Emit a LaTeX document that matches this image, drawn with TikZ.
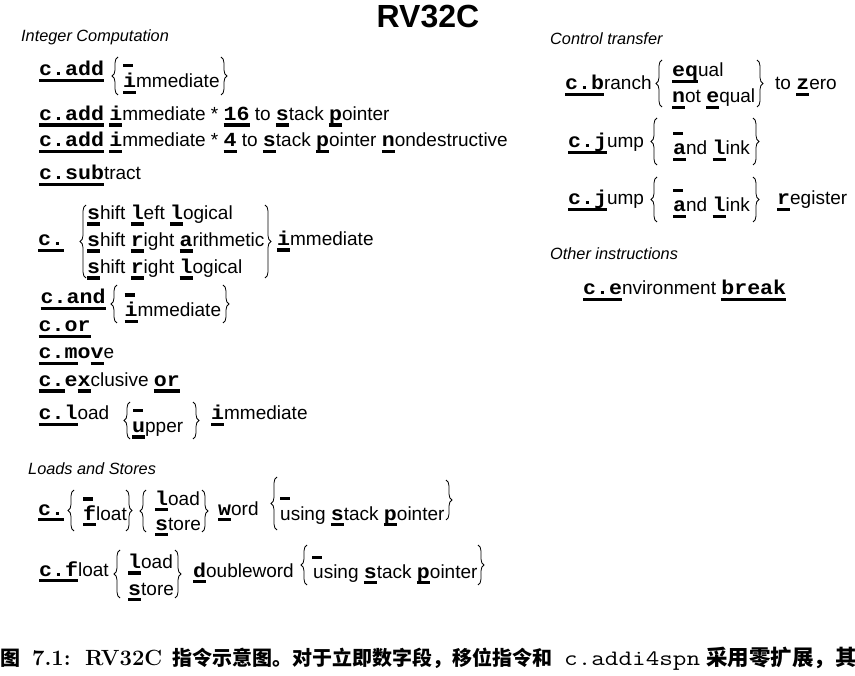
\documentclass[tikz,border=0pt]{standalone}
\usepackage{fontspec}
\setmainfont{Liberation Sans}
\newfontfamily\cf{Liberation Mono}[FakeStretch=1.08]
\newfontfamily\cjk{Noto Sans CJK SC}
\newfontfamily\lmr{Latin Modern Roman}
\newfontfamily\lmtt{Latin Modern Mono}[FakeStretch=1.2]
\usetikzlibrary{decorations.pathreplacing}
\newcommand\cfont{\cf\bfseries\fontsize{20}{22}\selectfont}
\newcommand\K[1]{\leavevmode\setbox0\hbox{\cfont #1}\rlap{\vrule width\wd0 height -2.6pt depth 6.4pt}\box0\relax}
\newcommand\C[1]{{\cfont #1}}
\newcommand\Bar{\leavevmode\vrule width 10pt height -2.6pt depth 6.4pt\relax}
\tikzset{
  txt/.style={anchor=base west, inner sep=0pt, font=\fontsize{19}{22}\selectfont},
  head/.style={anchor=base west, inner sep=0pt, font=\itshape\fontsize{16.3}{18}\selectfont},
  lbr/.style={decorate, decoration={brace, amplitude=6pt, aspect=0.5}, line width=0.8pt},
  captxt/.style={anchor=base west, inner sep=0pt},
}
\begin{document}
\begin{tikzpicture}[x=1pt,y=-1pt]
\useasboundingbox (0,0) rectangle (855,676);
% title
\node[anchor=base, inner sep=0pt, font=\bfseries\fontsize{32}{36}\selectfont] (title) at (428,28) {RV32C};
% headings
\node[head] (h1) at (21,41.5) {Integer Computation};
\node[head] (h2) at (28,475) {Loads and Stores};
\node[head] (h3) at (550,45) {Control transfer};
\node[head] (h4) at (550,260) {Other instructions};

% c.add {_ / immediate}
\node[txt] (a1) at (39,76) {\K{c.add}};
\draw[lbr] (118,95) -- (118,57);
\node[txt] (a1u) at (123,61) {\Bar};
\node[txt] (a1l) at (123,88) {\K{i}mmediate};
\draw[lbr] (221,57) -- (221,95);

\node[txt] (a2) at (39,120.5) {\K{c.add} \K{i}mmediate * \K{16} to \K{s}tack \K{p}ointer};
\node[txt] (a3) at (39,147) {\K{c.add} \K{i}mmediate * \K{4} to \K{s}tack \K{p}ointer \K{n}ondestructive};
\node[txt] (a4) at (39,180) {\K{c.sub}tract};

% shifts
\node[txt] (s0) at (38,246) {\K{c.}};
\draw[lbr] (86,278) -- (86,205);
\node[txt] (s1) at (87,219.5) {\K{s}hift \K{l}eft \K{l}ogical};
\node[txt] (s2) at (87,246.5) {\K{s}hift \K{r}ight \K{a}rithmetic};
\node[txt] (s3) at (87,273.5) {\K{s}hift \K{r}ight \K{l}ogical};
\draw[lbr] (265,205) -- (265,278);
\node[txt] (s4) at (277,245.5) {\K{i}mmediate};

% c.and
\node[txt] (n1) at (40.5,304) {\K{c.and}};
\draw[lbr] (117,323) -- (117,285);
\node[txt] (n1u) at (124.5,290.5) {\Bar};
\node[txt] (n1l) at (124.5,317) {\K{i}mmediate};
\draw[lbr] (223,285) -- (223,323);

\node[txt] (o1) at (38.5,332) {\K{c.or}};
\node[txt] (m1) at (38.5,359) {\K{c.m}\C{o}\K{v}e};
\node[txt] (x1) at (38.5,386.5) {\K{c.}\C{e}\K{x}clusive \K{or}};

% c.load
\node[txt] (l1) at (38.5,420) {\K{c.l}oad};
\draw[lbr] (130,439) -- (130,402);
\node[txt] (l1u) at (133,406) {\Bar};
\node[txt] (l1l) at (132,432.7) {\K{u}pper};
\draw[lbr] (193,402) -- (193,439);
\node[txt] (l2) at (211,420) {\K{i}mmediate};

% c. {_ float}{load store} word {_ using stack pointer}
\node[txt] (f0) at (38,515) {\K{c.}};
\draw[lbr] (74,531) -- (74,490);
\node[txt] (f1u) at (83,494.5) {\Bar};
\node[txt] (f1l) at (83,520) {\K{f}loat};
\draw[lbr] (126,490) -- (126,531);
\draw[lbr] (146,532) -- (146,490);
\node[txt] (f2u) at (155,505) {\K{l}oad};
\node[txt] (f2l) at (155,530) {\K{s}tore};
\draw[lbr] (202,490) -- (202,532);
\node[txt] (f3) at (218,515) {\K{w}ord};
\draw[lbr] (277,530) -- (277,477);
\node[txt] (f4u) at (280,494) {\Bar};
\node[txt] (f4l) at (280,520) {using \K{s}tack \K{p}ointer};
\draw[lbr] (446,480) -- (446,520);

% c.float {load store} doubleword {_ using stack pointer}
\node[txt] (g0) at (39,576) {\K{c.f}loat};
\draw[lbr] (120,598) -- (120,550);
\node[txt] (g1u) at (128,568.5) {\K{l}oad};
\node[txt] (g1l) at (128,595) {\K{s}tore};
\draw[lbr] (175,550) -- (175,598);
\node[txt] (g2) at (193,577) {\K{d}oubleword};
\draw[lbr] (307,585) -- (307,545);
\node[txt] (g3u) at (312,553) {\Bar};
\node[txt] (g3l) at (313,578) {using \K{s}tack \K{p}ointer};
\draw[lbr] (478,545) -- (478,585);

% control transfer
\node[txt] (b0) at (565,90) {\K{c.b}ranch};
\draw[lbr] (662,107) -- (662,60);
\node[txt] (b1) at (672,77) {\K{eq}ual};
\node[txt] (b2) at (672,103) {\K{n}ot \K{e}qual};
\draw[lbr] (757,60) -- (757,107);
\node[txt] (b3) at (775,90) {to \K{z}ero};

\node[txt] (j0) at (568,148) {\K{c.j}ump};
\draw[lbr] (657,165) -- (657,118);
\node[txt] (j1u) at (673,129) {\Bar};
\node[txt] (j1l) at (673,155) {\K{a}nd \K{l}ink};
\draw[lbr] (753,118) -- (753,165);

\node[txt] (k0) at (568,205) {\K{c.j}ump};
\draw[lbr] (657,222) -- (657,177);
\node[txt] (k1u) at (673,186) {\Bar};
\node[txt] (k1l) at (673,212) {\K{a}nd \K{l}ink};
\draw[lbr] (753,177) -- (753,222);
\node[txt] (k2) at (777,205) {\K{r}egister};

% other
\node[txt] (e0) at (583,295) {\K{c.e}nvironment \K{break}};

% caption
\node[captxt, font=\cjk\bfseries\fontsize{20}{22}\selectfont] (cap1) at (0,665) {图};
\node[captxt, font=\lmr\bfseries\fontsize{22}{24}\selectfont] (cap2) at (32,665) {7.1:};
\node[captxt, font=\lmr\bfseries\fontsize{22}{24}\selectfont] (cap3) at (85,665) {RV32C};
\node[captxt, font=\cjk\bfseries\fontsize{20}{22}\selectfont] (cap4) at (172,665) {指令示意图。对于立即数字段，移位指令和};
\node[captxt, font=\lmtt\fontsize{22}{24}\selectfont] (cap5) at (564,665) {c.addi4spn};
\node[captxt, font=\cjk\bfseries\fontsize{21.5}{23}\selectfont] (cap6) at (706,665) {采用零扩展，其};
\end{tikzpicture}
\end{document}
